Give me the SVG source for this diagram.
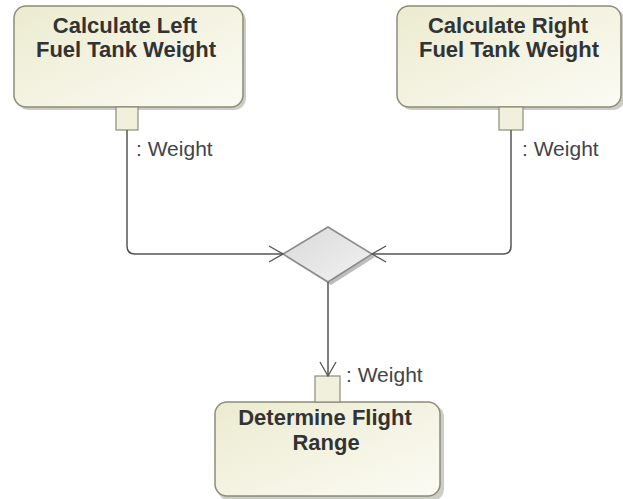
<svg xmlns="http://www.w3.org/2000/svg" width="623" height="499" viewBox="0 0 623 499">
<defs>
<linearGradient id="ng" x1="0" y1="0" x2="1" y2="1">
<stop offset="0" stop-color="#ecebd0"/>
<stop offset="1" stop-color="#fbfbf4"/>
</linearGradient>
<linearGradient id="dg" x1="0" y1="0" x2="1" y2="1">
<stop offset="0" stop-color="#d9d9d9"/>
<stop offset="1" stop-color="#f2f2f2"/>
</linearGradient>
<marker id="arr" viewBox="0 0 16 18" refX="15" refY="9" markerWidth="16" markerHeight="18" markerUnits="userSpaceOnUse" orient="auto">
<path d="M1,1 L15,9 L1,17" fill="none" stroke="#555" stroke-width="1.3"/>
</marker>
<style>
.node{fill:url(#ng);stroke:#8c8c78;stroke-width:1.5}
.shadow{fill:#b8b8b0;opacity:0.7}
.pin{fill:#f1f0dc;stroke:#8c8c78;stroke-width:1.2}
.title{font-family:"Liberation Sans",Arial,sans-serif;font-weight:bold;font-size:22px;fill:#333;text-anchor:middle}
.lbl{font-family:"Liberation Sans",Arial,sans-serif;font-size:21px;fill:#444}
.edge{fill:none;stroke:#555;stroke-width:1.5}
</style>
</defs>
<rect width="623" height="499" fill="#fff"/>
<g id="left">
<rect class="shadow" x="17" y="9" width="229" height="101" rx="12"/>
<rect class="node" x="14" y="6" width="229" height="101" rx="12"/>
<text class="title" x="125" y="33">Calculate Left</text>
<text class="title" x="126" y="57">Fuel Tank Weight</text>
<rect class="pin" x="116" y="107" width="22" height="23"/>
<text class="lbl" x="136" y="156">: Weight</text>
</g>
<g id="right">
<rect class="shadow" x="400" y="9" width="225" height="101" rx="12"/>
<rect class="node" x="397" y="6" width="224" height="101" rx="12"/>
<text class="title" x="508" y="33">Calculate Right</text>
<text class="title" x="509" y="57">Fuel Tank Weight</text>
<rect class="pin" x="499" y="107" width="24" height="23"/>
<text class="lbl" x="522" y="156">: Weight</text>
</g>
<g id="merge">
<polygon points="331,230 375,257 331,285 286,257" fill="#bdbdbd"/>
<polygon points="328,227 372,254 328,282 283,254" fill="url(#dg)" stroke="#8a8a8a" stroke-width="1.5"/>
</g>
<g id="bottom">
<rect class="shadow" x="218" y="405" width="226" height="96" rx="12"/>
<rect class="node" x="215" y="402" width="225" height="94" rx="12"/>
<text class="title" x="325" y="425">Determine Flight</text>
<text class="title" x="326" y="450">Range</text>
<rect class="pin" x="315" y="376" width="25" height="26"/>
<text class="lbl" x="346" y="382">: Weight</text>
</g>
<g id="connectors">
<path class="edge" d="M127,130 V246 Q127,254 135,254 H283" marker-end="url(#arr)"/>
<path class="edge" d="M511,130 V246 Q511,254 503,254 H372" marker-end="url(#arr)"/>
<path class="edge" d="M328,282 V376" marker-end="url(#arr)"/>
</g>
</svg>
